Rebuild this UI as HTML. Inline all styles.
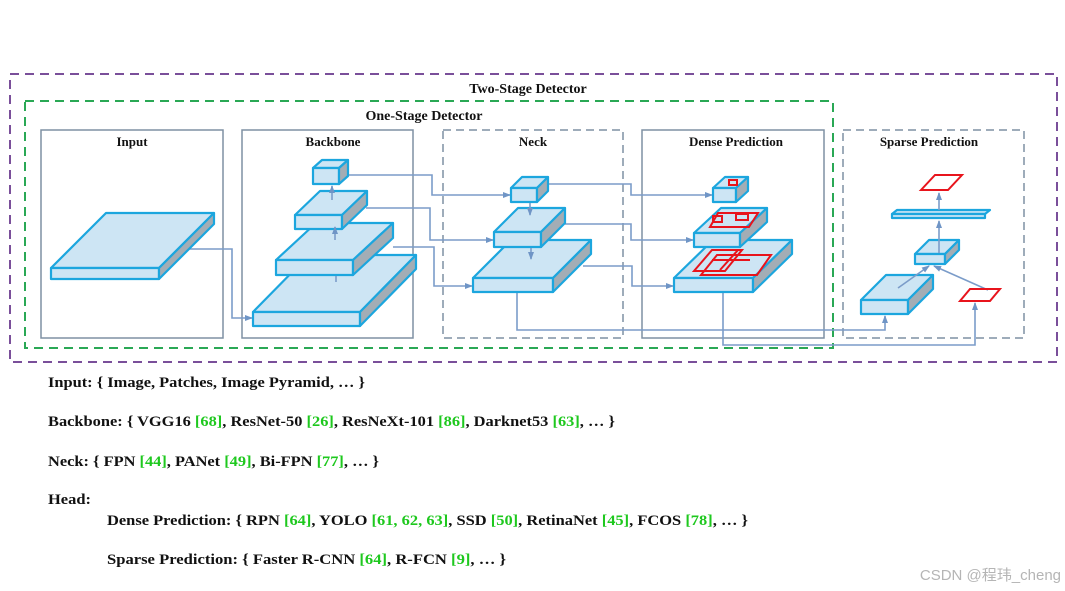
<!DOCTYPE html>
<html><head><meta charset="utf-8"><style>
html,body{margin:0;padding:0;background:#fff;}
svg{display:block;}
.t{font-family:"Liberation Serif",serif;font-weight:bold;fill:#111;}
.g{fill:#1ec81e;}
.f{fill:#cde5f4;stroke:#1ca6de;stroke-width:2.2;stroke-linejoin:round;}
.s{fill:#a3adb5;stroke:#1ca6de;stroke-width:2.2;stroke-linejoin:round;}
.c{fill:none;stroke:#7b9cc9;stroke-width:1.6;}
.r{fill:none;stroke:#e8141c;stroke-width:2;}
</style></head><body>
<svg width="1065" height="591" viewBox="0 0 1065 591" xmlns="http://www.w3.org/2000/svg">
<defs><marker id="a" markerWidth="8" markerHeight="8" refX="7" refY="4" orient="auto" markerUnits="userSpaceOnUse"><path d="M0,1 L8,4 L0,7 z" fill="#6f95c6"/></marker></defs>

<rect x="10" y="74" width="1047" height="288" fill="none" stroke="#7a4f9a" stroke-width="2" stroke-dasharray="9,6"/>
<rect x="25" y="101" width="808" height="247" fill="none" stroke="#2aa855" stroke-width="2" stroke-dasharray="9,6"/>
<text class="t" x="528" y="93" font-size="14" text-anchor="middle">Two-Stage Detector</text>
<text class="t" x="424" y="120" font-size="14" text-anchor="middle">One-Stage Detector</text>

<g fill="none" stroke="#7f90a3" stroke-width="1.5">
<rect x="41" y="130" width="182" height="208"/>
<rect x="242" y="130" width="171" height="208"/>
<rect x="443" y="130" width="180" height="208" stroke-dasharray="8,5"/>
<rect x="642" y="130" width="182" height="208"/>
<rect x="843" y="130" width="181" height="208" stroke-dasharray="8,5"/>
</g>
<g class="t" font-size="13" text-anchor="middle">
<text x="132" y="146">Input</text><text x="333" y="146">Backbone</text><text x="533" y="146">Neck</text>
<text x="736" y="146">Dense Prediction</text><text x="929" y="146">Sparse Prediction</text>
</g>

<!-- connectors -->
<g class="c">
<path d="M182,249 H232 V318 H252" marker-end="url(#a)"/>
<path d="M348,175 H432 V195 H510" marker-end="url(#a)"/>
<path d="M366,208 H430 V240 H493" marker-end="url(#a)"/>
<path d="M393,247 H434 V286 H472" marker-end="url(#a)"/>
<path d="M548,184 H631 V195 H712" marker-end="url(#a)"/>
<path d="M565,224 H631 V240 H693" marker-end="url(#a)"/>
<path d="M583,266 H632 V286 H673" marker-end="url(#a)"/>
<path d="M517,248 V330 H885 V316" marker-end="url(#a)"/>
<path d="M723,228 V345 H975 V303" marker-end="url(#a)"/>
</g>

<!-- input -->
<polygon class="f" points="51,268 106,213 214,213 159,268"/><rect class="f" x="51" y="268" width="108" height="11"/><polygon class="s" points="159,268 214,213 214,224 159,279"/>
<!-- backbone -->
<polygon class="f" points="253,312 309,255 416,255 360,312"/><rect class="f" x="253" y="312" width="107" height="14"/><polygon class="s" points="360,312 416,255 416,269 360,326"/>
<polygon class="f" points="276,260 316,223 393,223 353,260"/><rect class="f" x="276" y="260" width="77" height="15"/><polygon class="s" points="353,260 393,223 393,238 353,275"/>
<polygon class="f" points="295,215 320,191 367,191 342,215"/><rect class="f" x="295" y="215" width="47" height="14"/><polygon class="s" points="342,215 367,191 367,205 342,229"/>
<polygon class="f" points="313,168 322,160 348,160 339,168"/><rect class="f" x="313" y="168" width="26" height="16"/><polygon class="s" points="339,168 348,160 348,176 339,184"/>
<!-- neck -->
<polygon class="f" points="473,278 511,240 591,240 553,278"/><rect class="f" x="473" y="278" width="80" height="14"/><polygon class="s" points="553,278 591,240 591,254 553,292"/>
<polygon class="f" points="494,232 518,208 565,208 541,232"/><rect class="f" x="494" y="232" width="47" height="15"/><polygon class="s" points="541,232 565,208 565,223 541,247"/>
<polygon class="f" points="511,188 522,177 548,177 537,188"/><rect class="f" x="511" y="188" width="26" height="14"/><polygon class="s" points="537,188 548,177 548,191 537,202"/>
<!-- dense -->
<polygon class="f" points="674,278 713,240 792,240 753,278"/><rect class="f" x="674" y="278" width="79" height="14"/><polygon class="s" points="753,278 792,240 792,254 753,292"/>
<polygon class="f" points="694,233 721,208 767,208 740,233"/><rect class="f" x="694" y="233" width="46" height="14"/><polygon class="s" points="740,233 767,208 767,222 740,247"/>
<polygon class="f" points="713,188 725,177 748,177 736,188"/><rect class="f" x="713" y="188" width="23" height="14"/><polygon class="s" points="736,188 748,177 748,191 736,202"/>
<!-- sparse -->
<polygon class="f" points="861,300 886,275 933,275 908,300"/><rect class="f" x="861" y="300" width="47" height="14"/><polygon class="s" points="908,300 933,275 933,289 908,314"/>
<polygon class="f" points="915,254 929,240 959,240 945,254"/><rect class="f" x="915" y="254" width="30" height="10"/><polygon class="s" points="945,254 959,240 959,250 945,264"/>
<polygon class="f" points="892,214 897,210 990,210 985,214"/><rect class="f" x="892" y="214" width="93" height="4"/>

<!-- internal arrows -->
<g class="c" stroke-width="2">
<path d="M332,200 V186" marker-end="url(#a)"/>
<path d="M335,240 V227" marker-end="url(#a)"/>
<path d="M336,276 V282"/>
<path d="M530,203 V215" marker-end="url(#a)"/>
<path d="M531,248 V259" marker-end="url(#a)"/>
<path d="M939,253 V221" marker-end="url(#a)"/>
<path d="M939,210 V193" marker-end="url(#a)"/>
<path d="M898,288 L929,266" marker-end="url(#a)"/>
<path d="M988,290 L934,266" marker-end="url(#a)"/>
</g>

<!-- red boxes -->
<polygon class="r" points="921,190 935,175 962,175 948,190"/>
<polygon class="r" points="960,301 970,289 1000,289 990,301"/>
<polygon class="r" points="694,271 712,250 742,250 725,271"/>
<polygon class="r" points="701,275 717,255 771,255 757,275"/>
<path class="r" d="M720,270 L738,250 M712,260 L750,260"/>
<polygon class="r" points="710,227 718,213 758,213 749,227"/>
<rect class="r" x="713" y="216" width="9" height="6" stroke-width="1.5"/>
<rect class="r" x="736" y="214" width="12" height="6" stroke-width="1.5"/>
<rect class="r" x="729" y="180" width="8" height="5" stroke-width="1.5"/>

<!-- bottom text -->
<g class="t" font-size="15">
<text x="48" y="387" textLength="317" lengthAdjust="spacingAndGlyphs">Input: { Image, Patches, Image Pyramid, … }</text>
<text x="48" y="426" textLength="567" lengthAdjust="spacingAndGlyphs">Backbone: { VGG16 <tspan class="g">[68]</tspan>, ResNet-50 <tspan class="g">[26]</tspan>, ResNeXt-101 <tspan class="g">[86]</tspan>, Darknet53 <tspan class="g">[63]</tspan>, … }</text>
<text x="48" y="466" textLength="331" lengthAdjust="spacingAndGlyphs">Neck: { FPN <tspan class="g">[44]</tspan>, PANet <tspan class="g">[49]</tspan>, Bi-FPN <tspan class="g">[77]</tspan>, … }</text>
<text x="48" y="504" textLength="43" lengthAdjust="spacingAndGlyphs">Head:</text>
<text x="107" y="525" textLength="641" lengthAdjust="spacingAndGlyphs">Dense Prediction: { RPN <tspan class="g">[64]</tspan>, YOLO <tspan class="g">[61, 62, 63]</tspan>, SSD <tspan class="g">[50]</tspan>, RetinaNet <tspan class="g">[45]</tspan>, FCOS <tspan class="g">[78]</tspan>, … }</text>
<text x="107" y="564" textLength="399" lengthAdjust="spacingAndGlyphs">Sparse Prediction: { Faster R-CNN <tspan class="g">[64]</tspan>,  R-FCN <tspan class="g">[9]</tspan>, … }</text>
</g>
<text x="1061" y="580" text-anchor="end" font-size="15" fill="#b5b5b5" font-family="Liberation Sans, Noto Sans CJK SC, sans-serif">CSDN @程玮_cheng</text>
</svg>
</body></html>
